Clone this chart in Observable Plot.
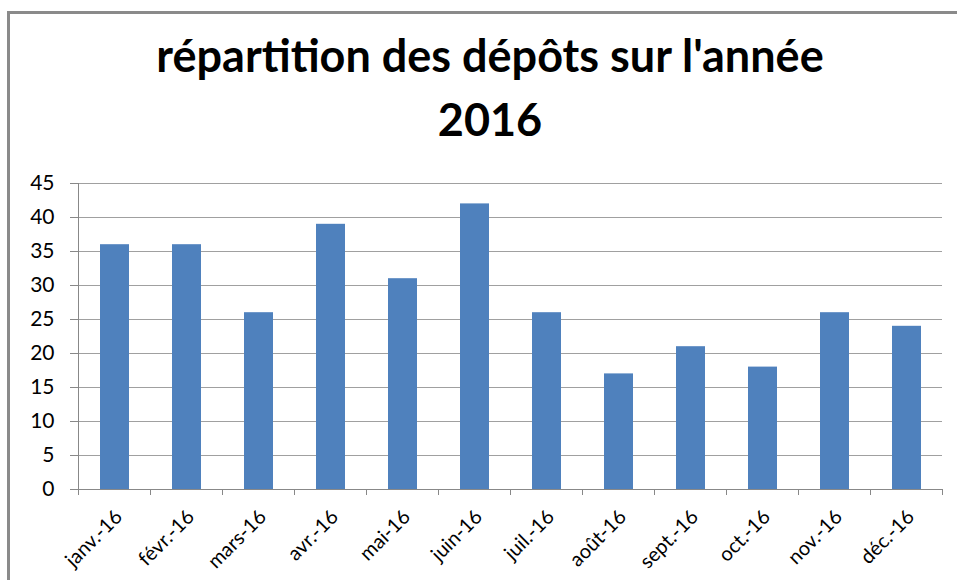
<!DOCTYPE html>
<html><head><meta charset="utf-8">
<script src="https://cdn.jsdelivr.net/npm/d3@7"></script>
<script src="https://cdn.jsdelivr.net/npm/@observablehq/plot@0.6"></script>
<style>
body{margin:0;background:#fff;overflow:hidden;}
#wrap{position:relative;width:957px;height:580px;overflow:hidden;font-family:Lato,sans-serif;background:#fff;}
#frame{position:absolute;left:7px;top:11px;width:1000px;height:700px;border:3px solid #8a8a8a;box-sizing:border-box;}
#title{position:absolute;left:0;width:980px;top:23px;text-align:center;font-weight:bold;font-size:45px;line-height:64px;color:#000;}
#chart{position:absolute;left:0;top:0;}
</style></head>
<body><div id="wrap"><div id="frame"></div><div id="chart"></div><div id="title">répartition des dépôts sur l'année<br>2016</div></div>
<script>
const months = ["janv.-16","févr.-16","mars-16","avr.-16","mai-16","juin-16","juil.-16","août-16","sept.-16","oct.-16","nov.-16","déc.-16"];
const values = [36,36,26,39,31,42,26,17,21,18,26,24];
const yTicks = [0,5,10,15,20,25,30,35,40,45];
const data = months.map((m,i)=>({month:m, value:values[i]}));

const boundaryTicks = (index, scales, values, dims) => {
  const x = scales.x;
  const step = x(months[1]) - x(months[0]);
  const bw = x.bandwidth ? x.bandwidth() : 0;
  const y0 = dims.height - dims.marginBottom;
  const g = d3.create("svg:g").attr("stroke","#888").attr("stroke-width",1);
  const xs = months.map(m => x(m) + bw/2 - step/2);
  xs.push(xs[xs.length-1] + step);
  for (const px of xs) g.append("line").attr("x1",px).attr("x2",px).attr("y1",y0).attr("y2",y0+6);
  return g.node();
};

const chart = Plot.plot({
  width:957, height:580,
  marginTop:183, marginBottom:91, marginLeft:78, marginRight:15,
  style:{fontFamily:"Lato, sans-serif", fontSize:"20px", color:"#000", background:"transparent"},
  x:{domain:months, paddingInner:0.6, paddingOuter:0.3, axis:null, label:null},
  y:{domain:[0,45], axis:null, label:null},
  marks:[
    Plot.gridY(yTicks,{stroke:"#a0a0a0", strokeOpacity:1}),
    Plot.barY(data,{x:"month", y:"value", fill:"#4f81bd"}),
    Plot.axisY(yTicks,{tickSize:8, tickPadding:16, stroke:"#888", fill:"#000", fontSize:21, label:null}),
    Plot.frame({anchor:"left", stroke:"#888"}),
    Plot.ruleY([0],{stroke:"#888"}),
    Plot.frame({stroke:"none", render: boundaryTicks}),
    Plot.text(data,{x:"month", text:"month", frameAnchor:"bottom", rotate:-45, textAnchor:"end", lineAnchor:"middle", dx:4, dy:24, fontSize:20, fill:"#000"})
  ]
});
document.getElementById("chart").append(chart);
</script>
</body></html>
